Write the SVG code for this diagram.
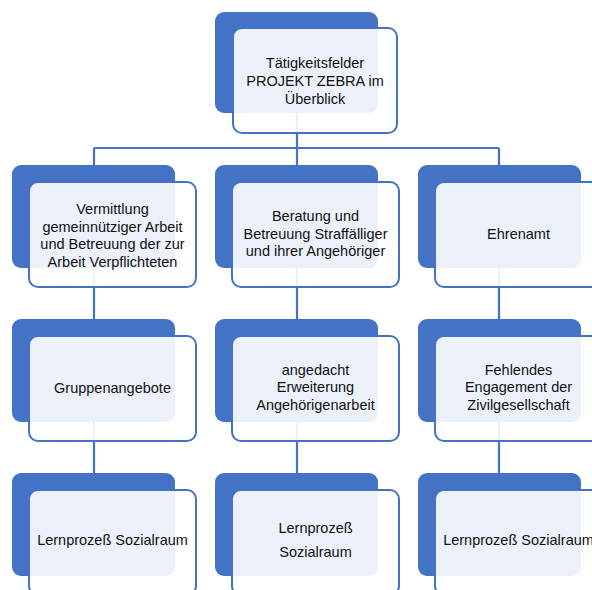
<svg xmlns="http://www.w3.org/2000/svg" width="592" height="590" viewBox="0 0 592 590">
<style>
.back{fill:#4472C4}
.front{fill:#FFFFFF;fill-opacity:0.9;stroke:#4472C4;stroke-width:2}
.conn{fill:none;stroke:#4472C4;stroke-width:2.2}
text{font-family:"Liberation Sans",Arial,sans-serif;font-size:14.5px;fill:#111111;text-anchor:middle}
</style>
<rect width="592" height="590" fill="#FFFFFF"/>
<g id="connectors">
<path class="conn" d="M297 113V148M94 148H499M94 148V165M297 148V165M499 148V165M94 268V319M297 268V319M499 268V319M94 422V473M297 422V473M499 422V473"/>
</g>
<g id="n0">
<rect class="back" x="215" y="12" width="163" height="101" rx="9"/>
<rect class="front" x="233" y="28" width="164" height="105" rx="9"/>
<text x="315" y="68">Tätigkeitsfelder</text>
<text x="315" y="86">PROJEKT ZEBRA im</text>
<text x="315" y="104">Überblick</text>
</g>
<g id="n1">
<rect class="back" x="12" y="165" width="163" height="103" rx="9"/>
<rect class="front" x="29" y="182" width="167" height="105" rx="9"/>
<text x="112.5" y="214">Vermittlung</text>
<text x="112.5" y="231.5">gemeinnütziger Arbeit</text>
<text x="112.5" y="249">und Betreuung der zur</text>
<text x="112.5" y="266.5">Arbeit Verpflichteten</text>
</g>
<g id="n2">
<rect class="back" x="215" y="165" width="163" height="103" rx="9"/>
<rect class="front" x="232" y="182" width="167" height="105" rx="9"/>
<text x="315.5" y="221">Beratung und</text>
<text x="315.5" y="239">Betreuung Straffälliger</text>
<text x="315.5" y="256">und ihrer Angehöriger</text>
</g>
<g id="n3">
<rect class="back" x="418" y="165" width="163" height="103" rx="9"/>
<rect class="front" x="435" y="182" width="167" height="105" rx="9"/>
<text x="518.5" y="239">Ehrenamt</text>
</g>
<g id="n4">
<rect class="back" x="12" y="319" width="163" height="103" rx="9"/>
<rect class="front" x="29" y="336" width="167" height="105" rx="9"/>
<text x="112.5" y="393">Gruppenangebote</text>
</g>
<g id="n5">
<rect class="back" x="215" y="319" width="163" height="103" rx="9"/>
<rect class="front" x="232" y="336" width="167" height="105" rx="9"/>
<text x="315.5" y="375">angedacht</text>
<text x="315.5" y="392">Erweiterung</text>
<text x="315.5" y="410">Angehörigenarbeit</text>
</g>
<g id="n6">
<rect class="back" x="418" y="319" width="163" height="103" rx="9"/>
<rect class="front" x="435" y="336" width="167" height="105" rx="9"/>
<text x="518.5" y="375">Fehlendes</text>
<text x="518.5" y="392">Engagement der</text>
<text x="518.5" y="410">Zivilgesellschaft</text>
</g>
<g id="n7">
<rect class="back" x="12" y="473" width="163" height="103" rx="9"/>
<rect class="front" x="29" y="490" width="167" height="105" rx="9"/>
<text x="112.5" y="545">Lernprozeß Sozialraum</text>
</g>
<g id="n8">
<rect class="back" x="215" y="473" width="163" height="103" rx="9"/>
<rect class="front" x="232" y="490" width="167" height="105" rx="9"/>
<text x="315.5" y="533">Lernprozeß</text>
<text x="315.5" y="557">Sozialraum</text>
</g>
<g id="n9">
<rect class="back" x="418" y="473" width="163" height="103" rx="9"/>
<rect class="front" x="435" y="490" width="167" height="105" rx="9"/>
<text x="518.5" y="545">Lernprozeß Sozialraum</text>
</g>
</svg>
